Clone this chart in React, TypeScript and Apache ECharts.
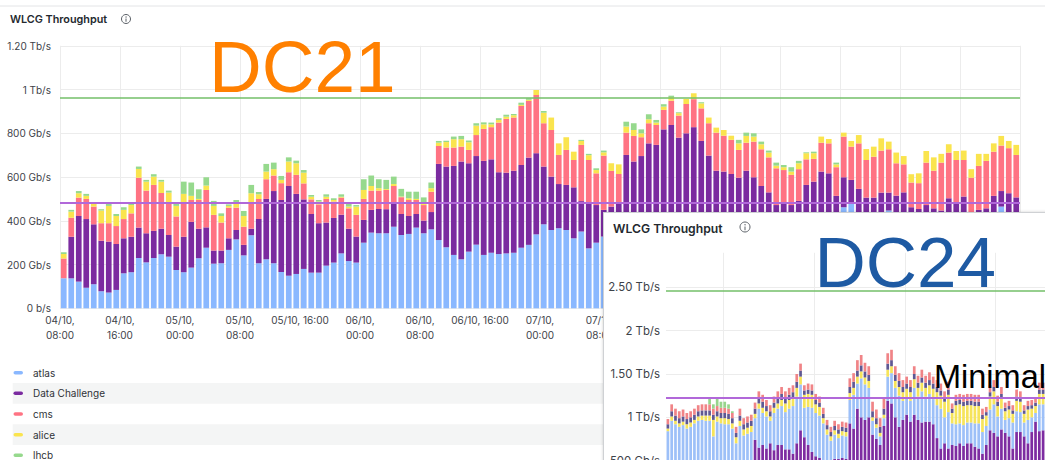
import React, { useEffect, useRef } from "react";
import * as echarts from "echarts";

// ---------------- DC21 panel (Gb/s, hourly bars starting 04/10 08:00) ----------------
const atlas21 = [
  137, 137, 122, 94, 110, 78, 72, 84, 160, 165,
  230, 210, 230, 247, 236, 175, 165, 186, 229, 277,
  204, 206, 267, 315, 242, 334, 206, 224, 206, 166,
  149, 157, 180, 163, 163, 195, 209, 251, 216, 209,
  300, 346, 343, 343, 373, 335, 340, 369, 343, 361,
  312, 279, 244, 224, 259, 291, 244, 254, 248, 251,
  254, 277, 290, 338, 384, 358, 366, 358, 320, 351,
  274, 300, 328, 300, 300, 350, 330, 320, 300, 310,
  330, 330, 320, 320, 340, 340, 330, 330, 340, 340,
  350, 350, 360, 360, 360, 370, 370, 370, 380, 380,
  390, 400, 400, 410, 462, 480, 420, 410, 400, 410,
  447, 410, 410, 400, 400, 400, 400, 400, 410, 410,
  410, 400, 400, 400, 410, 465, 420, 420,
];
const dataChallenge21 = [
  0, 190, 300, 314, 274, 231, 233, 210, 160, 162,
  139, 133, 124, 117, 99, 107, 162, 209, 135, 93,
  60, 58, 53, 43, 48, 30, 202, 276, 330, 329,
  410, 366, 318, 268, 226, 197, 204, 177, 148, 119,
  104, 104, 111, 110, 104, 96, 82, 62, 58, 79,
  348, 369, 407, 447, 404, 405, 430, 427, 374, 369,
  375, 378, 399, 371, 264, 244, 202, 206, 233, 139,
  206, 172, 122, 165, 183, 351, 341, 376, 454, 437,
  488, 508, 460, 480, 488, 425, 368, 299, 285, 274,
  247, 279, 239, 199, 170, 102, 107, 102, 111, 184,
  189, 225, 217, 104, 137, 107, 126, 96, 106, 119,
  82, 105, 120, 62, 54, 72, 57, 47, 93, 67,
  101, 40, 50, 57, 104, 71, 106, 87,
];
const cms21 = [
  91, 87, 84, 92, 81, 80, 84, 82, 88, 107,
  228, 195, 210, 163, 142, 138, 150, 100, 131, 171,
  163, 128, 140, 102, 83, 116, 92, 90, 71, 77,
  63, 87, 73, 67, 86, 108, 75, 78, 93, 99,
  96, 88, 84, 88, 82, 77, 73, 64, 71, 93,
  82, 87, 84, 68, 61, 96, 146, 147, 227, 246,
  243, 270, 259, 266, 198, 213, 133, 160, 125, 257,
  198, 145, 248, 163, 131, 102, 117, 86, 92, 91,
  89, 111, 101, 134, 128, 149, 148, 174, 164, 156,
  127, 128, 163, 168, 160, 168, 155, 138, 145, 117,
  104, 132, 137, 131, 186, 152, 208, 172, 187, 192,
  198, 148, 128, 113, 118, 194, 172, 219, 209, 201,
  167, 157, 201, 217, 202, 208, 206, 194,
];
const alice21 = [
  20, 28, 20, 14, 12, 58, 79, 46, 42, 38,
  40, 41, 38, 52, 52, 48, 46, 19, 5, 20,
  41, 30, 8, 25, 49, 46, 21, 35, 29, 15,
  49, 53, 49, 12, 13, 10, 7, 4, 8, 38,
  41, 21, 11, 4, 9, 3, 8, 5, 8, 16,
  15, 25, 38, 34, 35, 43, 21, 13, 12, 10,
  10, 5, 5, 23, 48, 57, 53, 58, 38, 18,
  22, 15, 15, 35, 44, 28, 27, 18, 18, 11,
  15, 16, 11, 23, 27, 23, 26, 23, 26, 19,
  30, 31, 23, 23, 22, 12, 13, 15, 27, 28,
  26, 28, 20, 13, 18, 26, 38, 50, 46, 56,
  35, 49, 38, 38, 45, 53, 61, 40, 38, 41,
  43, 39, 55, 32, 38, 44, 33, 46,
];
const lhcb21 = [
  8, 8, 10, 9, 8, 6, 9, 9, 12, 11,
  11, 8, 11, 8, 9, 10, 56, 61, 44, 38,
  23, 12, 7, 10, 23, 38, 11, 35, 30, 18,
  19, 12, 12, 8, 7, 11, 8, 11, 12, 7,
  49, 48, 41, 42, 34, 35, 30, 33, 27, 26,
  8, 6, 12, 15, 8, 11, 9, 8, 8, 9,
  6, 10, 7, 0, 8, 0, 0, 0, 0, 5,
  6, 8, 8, 0, 0, 22, 31, 18, 23, 12,
  11, 7, 4, 0, 0, 5, 0, 0, 0, 0,
  16, 15, 15, 12, 9, 14, 10, 20, 11, 4,
  7, 0, 0, 8, 0, 0, 0, 0, 0, 0,
  0, 0, 0, 0, 0, 0, 0, 0, 0, 0,
  0, 0, 0, 0, 0, 0, 0, 0,
];
const hours21 = atlas21.map((_, i) => String(i));
const xTickLabels21 = [
  "04/10,\n08:00", "04/10,\n16:00", "05/10,\n00:00", "05/10,\n08:00", "05/10, 16:00",
  "06/10,\n00:00", "06/10,\n08:00", "06/10, 16:00", "07/10,\n00:00", "07/10,\n08:00",
];
const yTickLabels21 = ["0 b/s", "200 Gb/s", "400 Gb/s", "600 Gb/s", "800 Gb/s", "1 Tb/s", "1.20 Tb/s"];
const target21 = 963;
const minimal21 = 483;
const legendNames21 = ["atlas", "Data Challenge", "cms", "alice", "lhcb"];

// ---------------- DC24 panel (Tb/s, hourly bars) ----------------
const dc24 = [
  0, 0, 0, 0, 0, 0, 0, 0, 0, 0,
  0, 0, 0, 0, 0, 0, 0, 0, 0, 0,
  0, 0, 0, 0.74, 0.65, 0.68, 0.64, 0.70, 0.62, 0.68,
  0.68, 0.63, 0.63, 0.58, 0.70, 0.85, 0.77, 0.68, 0.60, 0.55,
  0.53, 0.50, 0.45, 0.42, 0.52, 0.52, 0.53, 0.52, 0.93, 0.87,
  1.10, 1.00, 0.97, 1.00, 0.80, 0.75, 0.68, 0.90, 1.19, 1.16,
  1.00, 0.89, 0.97, 1.03, 0.95, 1.03, 0.97, 0.94, 0.95, 0.95,
  0.92, 0.76, 0.64, 0.70, 0.64, 0.68, 0.67, 0.70, 0.67, 0.70,
  0.70, 0.66, 0.64, 0.58, 0.68, 0.85, 0.82, 0.78, 0.86, 0.82,
  0.78, 0.64, 0.83, 0.83, 0.78, 0.70, 0.83, 0.95, 0.84, 0.85,
];
const atlas24 = [
  0.84, 0.96, 0.92, 0.89, 0.91, 0.87, 0.89, 0.93, 0.96, 0.97,
  0.96, 0.96, 0.78, 0.95, 0.93, 0.92, 0.92, 0.87, 0.70, 0.90,
  0.79, 0.81, 0.83, 0.25, 0.45, 0.37, 0.37, 0.26, 0.43, 0.42,
  0.45, 0.43, 0.47, 0.55, 0.54, 0.53, 0.34, 0.44, 0.51, 0.50,
  0.49, 0.43, 0.35, 0.31, 0.28, 0.24, 0.26, 0.26, 0.27, 0.39,
  0.29, 0.45, 0.41, 0.34, 0.16, 0.13, 0.10, 0.09, 0.28, 0.35,
  0.34, 0.36, 0.22, 0.20, 0.24, 0.31, 0.27, 0.36, 0.29, 0.32,
  0.29, 0.38, 0.46, 0.30, 0.42, 0.25, 0.25, 0.23, 0.24, 0.24,
  0.24, 0.27, 0.29, 0.25, 0.22, 0.24, 0.33, 0.23, 0.24, 0.15,
  0.21, 0.30, 0.24, 0.23, 0.16, 0.27, 0.17, 0.10, 0.31, 0.30,
];
const alice24 = [
  0.03, 0.05, 0.04, 0.04, 0.04, 0.05, 0.05, 0.04, 0.05, 0.05,
  0.06, 0.06, 0.19, 0.06, 0.06, 0.07, 0.06, 0.06, 0.07, 0.06,
  0.07, 0.07, 0.07, 0.05, 0.06, 0.06, 0.06, 0.05, 0.06, 0.06,
  0.07, 0.10, 0.10, 0.10, 0.10, 0.09, 0.15, 0.15, 0.15, 0.10,
  0.10, 0.06, 0.06, 0.05, 0.05, 0.05, 0.05, 0.05, 0.08, 0.08,
  0.08, 0.08, 0.08, 0.08, 0.04, 0.04, 0.04, 0.04, 0.08, 0.08,
  0.08, 0.10, 0.10, 0.10, 0.10, 0.10, 0.10, 0.10, 0.10, 0.10,
  0.12, 0.15, 0.15, 0.18, 0.20, 0.12, 0.22, 0.22, 0.22, 0.20,
  0.20, 0.20, 0.20, 0.15, 0.12, 0.15, 0.15, 0.12, 0.12, 0.10,
  0.10, 0.10, 0.12, 0.12, 0.10, 0.12, 0.10, 0.08, 0.12, 0.12,
];
const other24 = [
  0.05, 0.06, 0.06, 0.06, 0.06, 0.06, 0.06, 0.06, 0.06, 0.06,
  0.06, 0.06, 0.06, 0.06, 0.06, 0.06, 0.06, 0.06, 0.05, 0.06,
  0.06, 0.06, 0.06, 0.06, 0.07, 0.07, 0.06, 0.06, 0.06, 0.07,
  0.07, 0.06, 0.06, 0.06, 0.07, 0.07, 0.05, 0.05, 0.05, 0.05,
  0.05, 0.05, 0.05, 0.05, 0.05, 0.05, 0.05, 0.05, 0.07, 0.07,
  0.07, 0.07, 0.07, 0.07, 0.07, 0.07, 0.07, 0.07, 0.07, 0.07,
  0.07, 0.07, 0.06, 0.06, 0.06, 0.06, 0.06, 0.06, 0.06, 0.06,
  0.06, 0.06, 0.06, 0.05, 0.06, 0.05, 0.05, 0.05, 0.05, 0.05,
  0.05, 0.05, 0.05, 0.05, 0.04, 0.05, 0.05, 0.05, 0.05, 0.04,
  0.04, 0.04, 0.05, 0.05, 0.04, 0.04, 0.04, 0.04, 0.05, 0.05,
];
const cms24 = [
  0.06, 0.08, 0.08, 0.08, 0.08, 0.07, 0.07, 0.07, 0.07, 0.07,
  0.07, 0.07, 0.07, 0.06, 0.06, 0.06, 0.06, 0.06, 0.07, 0.08,
  0.07, 0.07, 0.07, 0.07, 0.07, 0.08, 0.07, 0.07, 0.07, 0.07,
  0.08, 0.08, 0.08, 0.08, 0.09, 0.08, 0.06, 0.07, 0.07, 0.07,
  0.07, 0.07, 0.06, 0.06, 0.06, 0.06, 0.06, 0.06, 0.10, 0.10,
  0.12, 0.12, 0.10, 0.10, 0.11, 0.10, 0.10, 0.12, 0.12, 0.12,
  0.10, 0.09, 0.08, 0.08, 0.08, 0.09, 0.08, 0.09, 0.08, 0.09,
  0.08, 0.08, 0.08, 0.07, 0.09, 0.06, 0.07, 0.07, 0.08, 0.08,
  0.08, 0.08, 0.08, 0.07, 0.06, 0.08, 0.08, 0.07, 0.08, 0.06,
  0.06, 0.06, 0.08, 0.07, 0.06, 0.06, 0.06, 0.05, 0.08, 0.08,
];
const lhcb24 = [
  0, 0, 0, 0, 0, 0, 0, 0, 0, 0,
  0, 0.07, 0.05, 0.09, 0.07, 0.07, 0.05, 0.02, 0, 0,
  0, 0, 0, 0, 0, 0, 0, 0, 0, 0,
  0, 0, 0, 0, 0, 0, 0, 0, 0, 0,
  0, 0, 0, 0, 0, 0, 0, 0, 0, 0,
  0, 0, 0, 0, 0, 0, 0, 0, 0, 0,
  0, 0, 0, 0, 0, 0, 0, 0, 0, 0,
  0, 0, 0, 0, 0, 0, 0, 0, 0, 0,
  0, 0, 0, 0, 0, 0, 0, 0, 0, 0,
  0, 0, 0, 0, 0, 0, 0, 0, 0, 0,
];
const hours24 = dc24.map((_, i) => String(i));
const firstMidnight24 = 15;
const yTickLabels24 = ["0 b/s", "500 Gb/s", "1 Tb/s", "1.50 Tb/s", "2 Tb/s", "2.50 Tb/s"];
const target24 = 2.46;
const minimal24 = 1.23;

// ---------------- styling ----------------
const FONT = "Inter, 'Noto Sans', 'DejaVu Sans', sans-serif";
const ARIAL = "'Liberation Sans', Arial, sans-serif";
const TEXT = "#3d4249";
const GRID = "#ececec";
const C_ATLAS = "#8ab8ff";
const C_DC = "#7b2ba0";
const C_CMS = "#ff7383";
const C_ALICE = "#fae44e";
const C_LHCB = "#96d98d";
const C_GREEN_LINE = "#73bf69";
const C_PURPLE_LINE = "#b168d9";

function infoIcon(cx: number, cy: number, r: number) {
  return [
    { type: "circle", silent: true, shape: { cx, cy, r }, style: { fill: "none", stroke: "#5b6067", lineWidth: 1 } },
    { type: "rect", silent: true, shape: { x: cx - 0.5, y: cy - 0.6, width: 1, height: r * 0.75 }, style: { fill: "#5b6067" } },
    { type: "circle", silent: true, shape: { cx, cy: cy - r * 0.45, r: 0.65 }, style: { fill: "#5b6067" } },
  ];
}

function buildOption21(): any {
  const defs = [
    { name: legendNames21[0], data: atlas21, color: C_ATLAS },
    { name: legendNames21[1], data: dataChallenge21, color: C_DC },
    { name: legendNames21[2], data: cms21, color: C_CMS },
    { name: legendNames21[3], data: alice21, color: C_ALICE },
    { name: legendNames21[4], data: lhcb21, color: C_LHCB },
  ];
  const series = defs.map((d, si) => ({
    type: "bar",
    name: d.name,
    stack: "total",
    xAxisIndex: 0,
    yAxisIndex: 0,
    barWidth: 5.7,
    silent: true,
    itemStyle: { color: d.color },
    data: d.data,
    markLine:
      si === defs.length - 1
        ? {
            silent: true,
            symbol: ["none", "none"],
            label: { show: false },
            data: [
              { yAxis: target21, lineStyle: { color: C_GREEN_LINE, width: 1.5, type: "solid" } },
              { yAxis: minimal21, lineStyle: { color: C_PURPLE_LINE, width: 2, type: "solid" } },
            ],
          }
        : undefined,
  }));

  const rowsY = [372.7, 393.3, 414, 434.7, 455.3];
  const legendGraphics: any[] = [];
  rowsY.forEach((y, i) => {
    if (i % 2 === 1) {
      legendGraphics.push({
        type: "rect", silent: true, z: 0,
        shape: { x: 12.7, y: y - 10.4, width: 1040, height: 20.8 },
        style: { fill: "#f4f5f5" },
      });
    }
  });
  rowsY.forEach((y, i) => {
    legendGraphics.push({
      type: "rect", silent: true, z: 1,
      shape: { x: 13.5, y: y - 1.8, width: 9.5, height: 3.6, r: 1.8 },
      style: { fill: defs[i].color },
    });
    legendGraphics.push({
      type: "text", silent: true, z: 1, x: 33, y,
      style: { text: legendNames21[i], font: `400 10px ${FONT}`, fill: "#2f3338", textVerticalAlign: "middle" },
    });
  });

  return {
    animation: false,
    backgroundColor: "#ffffff",
    grid: { left: 60, top: 45.8, width: 960, height: 262.5, containLabel: false, outerBoundsMode: "none" },
    xAxis: [
      {
        type: "category",
        data: hours21,
        boundaryGap: true,
        show: false,
      },
      {
        type: "value",
        min: 0,
        max: 128,
        interval: 8,
        position: "bottom",
        axisLine: { show: false },
        axisTick: { show: false },
        splitLine: { show: true, lineStyle: { color: GRID, width: 1 } },
        axisLabel: {
          formatter: (v: number) => xTickLabels21[Math.round(v / 8)] ?? "",
          fontSize: 10,
          fontFamily: FONT,
          color: TEXT,
          lineHeight: 14.3,
          margin: 5,
        },
      },
    ],
    yAxis: {
      type: "value",
      min: 0,
      max: 1200,
      interval: 200,
      axisLine: { show: false },
      axisTick: { show: false },
      splitLine: { show: true, lineStyle: { color: GRID, width: 1 } },
      axisLabel: {
        formatter: (v: number) => yTickLabels21[Math.round(v / 200)] ?? "",
        fontSize: 10,
        fontFamily: FONT,
        color: TEXT,
        margin: 9,
      },
    },
    series,
    graphic: [
      { type: "line", silent: true, shape: { x1: 0, y1: 6, x2: 1045, y2: 6 }, style: { stroke: "#e3e4e6", lineWidth: 1 } },
      {
        type: "text", silent: true, x: 10, y: 19,
        style: { text: "WLCG Throughput", font: `600 10.8px ${FONT}`, fill: "#24292e", textVerticalAlign: "middle" },
      },
      ...infoIcon(126, 19, 4.5),
      {
        type: "text", silent: true, z: 10, x: 209, y: 66.2,
        style: { text: "DC21", font: `400 73px ${ARIAL}`, fill: "#ff8000", textVerticalAlign: "middle" },
      },
      ...legendGraphics,
    ],
  };
}

function buildOption24(): any {
  const defs = [
    { name: "Data Challenge", data: dc24, color: "#7d2ca1" },
    { name: "atlas", data: atlas24, color: "#9dc0f8" },
    { name: "alice", data: alice24, color: "#f6e45a" },
    { name: "other", data: other24, color: "#5f5893" },
    { name: "cms", data: cms24, color: "#f08487" },
    { name: "lhcb", data: lhcb24, color: "#97d58c" },
  ];
  const series = defs.map((d, si) => ({
    type: "bar",
    name: d.name,
    stack: "total",
    barWidth: 2.7,
    silent: true,
    itemStyle: { color: d.color },
    data: d.data,
    markLine:
      si === defs.length - 1
        ? {
            silent: true,
            symbol: ["none", "none"],
            label: { show: false },
            data: [
              { yAxis: target24, lineStyle: { color: C_GREEN_LINE, width: 1.5, type: "solid" } },
              { yAxis: minimal24, lineStyle: { color: C_PURPLE_LINE, width: 2, type: "solid" } },
            ],
          }
        : undefined,
  }));
  return {
    animation: false,
    backgroundColor: "#ffffff",
    grid: { left: 62, top: 39.8, width: 379, height: 251.1, containLabel: false, outerBoundsMode: "none" },
    xAxis: {
      type: "category",
      data: hours24,
      boundaryGap: true,
      axisLine: { show: false },
      axisTick: { show: false },
      axisLabel: { show: false },
      splitLine: {
        show: true,
        interval: (i: number) => (i - firstMidnight24) % 24 === 0,
        lineStyle: { color: GRID, width: 1 },
      },
    },
    yAxis: {
      type: "value",
      min: 0,
      max: 2.9,
      interval: 0.5,
      axisLine: { show: false },
      axisTick: { show: false },
      splitLine: { show: true, showMaxLine: false, lineStyle: { color: GRID, width: 1 } },
      axisLabel: {
        formatter: (v: number) => {
          const k = v / 0.5;
          return Math.abs(k - Math.round(k)) < 1e-6 ? yTickLabels24[Math.round(k)] ?? "" : "";
        },
        showMaxLabel: false,
        fontSize: 11.4,
        fontFamily: FONT,
        color: TEXT,
        margin: 6,
      },
    },
    series,
    graphic: [
      {
        type: "text", silent: true, x: 9, y: 15,
        style: { text: "WLCG Throughput", font: `600 12.2px ${FONT}`, fill: "#24292e", textVerticalAlign: "middle" },
      },
      ...infoIcon(141, 14, 5),
      {
        type: "text", silent: true, z: 10, x: 210.4, y: 49.5,
        style: { text: "DC24", font: `400 71px ${ARIAL}`, fill: "#1e5aa3", textVerticalAlign: "middle" },
      },
      {
        type: "text", silent: true, z: 10, x: 330, y: 163.9,
        style: { text: "Minimal", font: `400 32.5px ${ARIAL}`, fill: "#000000", textVerticalAlign: "middle" },
      },
    ],
  };
}

export default function App() {
  const ref21 = useRef<HTMLDivElement>(null);
  const ref24 = useRef<HTMLDivElement>(null);

  useEffect(() => {
    if (!ref21.current || !ref24.current) return;
    const c21 = echarts.init(ref21.current, null, { renderer: "svg" });
    c21.setOption(buildOption21());
    const c24 = echarts.init(ref24.current, null, { renderer: "svg" });
    c24.setOption(buildOption24());
    return () => {
      c21.dispose();
      c24.dispose();
    };
  }, []);

  return (
    <div style={{ position: "fixed", left: 0, top: 0, width: 1045, height: 460, overflow: "hidden", background: "#fff" }}>
      <div ref={ref21} style={{ position: "absolute", left: 0, top: 0, width: 1045, height: 460 }} />
      <div
        style={{
          position: "absolute",
          left: 603,
          top: 212,
          width: 446,
          height: 252,
          background: "#fff",
          border: "1px solid #cfd1d4",
          boxShadow: "0 0 3px rgba(0,0,0,0.18)",
          overflow: "hidden",
        }}
      >
        <div ref={ref24} style={{ position: "absolute", left: 0, top: 0, width: 446, height: 300 }} />
      </div>
    </div>
  );
}
